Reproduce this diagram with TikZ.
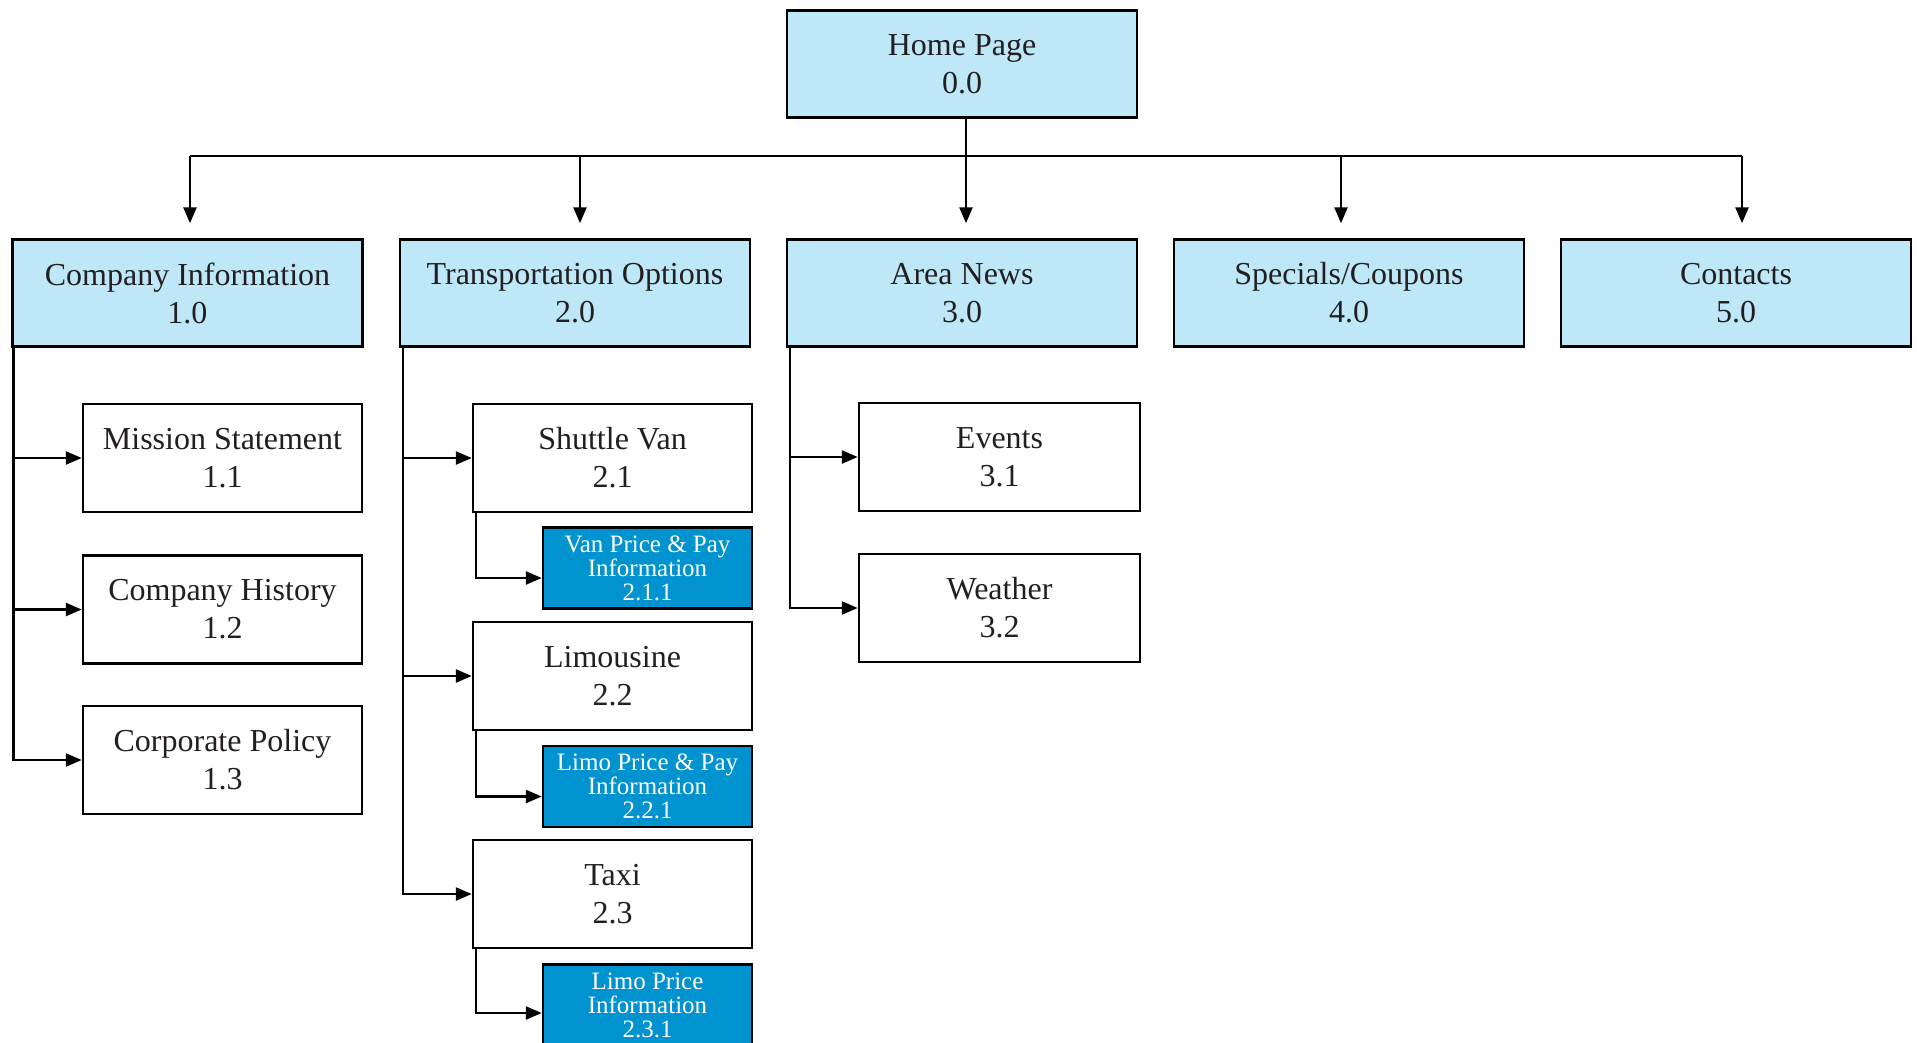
\documentclass[tikz,border=0pt]{standalone}
\usepackage{fontspec}
\setmainfont{Liberation Serif}
\usetikzlibrary{arrows.meta,positioning}
\definecolor{lightbox}{HTML}{BEE7F8}
\definecolor{darkbox}{HTML}{0093D0}
\definecolor{txt}{HTML}{231F20}
\tikzset{
  basebox/.style={draw=black, line width=2.5pt, inner sep=0pt, align=center, text=txt,
    font=\fontsize{32}{38}\selectfont},
  topbox/.style={basebox, fill=lightbox, minimum width=350pt, minimum height=107pt},
  childbox/.style={basebox, fill=white, minimum width=279pt, minimum height=108pt},
  subbox/.style={basebox, fill=darkbox, text=white, minimum width=209pt, minimum height=81pt,
    font=\fontsize{25}{24}\selectfont},
  conn/.style={draw=black, line width=2.5pt, -{Triangle[length=16pt,width=13pt]}},
  plain/.style={draw=black, line width=2.5pt},
}
\begin{document}
\begin{tikzpicture}[x=1pt, y=-1pt]
\useasboundingbox (0,0) rectangle (1917,1042);
% top
\node[topbox] (home) at (962,64) {Home Page\\0.0};
\node[topbox] (cinfo) at (187.5,293) {Company Information\\1.0};
\node[topbox] (trans) at (575,293) {Transportation Options\\2.0};
\node[topbox] (area) at (962,293) {Area News\\3.0};
\node[topbox] (spec) at (1349,293) {Specials/Coupons\\4.0};
\node[topbox] (cont) at (1736,293) {Contacts\\5.0};
% company children
\node[childbox] (mission) at (222.5,458) {Mission Statement\\1.1};
\node[childbox] (history) at (222.5,609.5) {Company History\\1.2};
\node[childbox] (policy) at (222.5,760) {Corporate Policy\\1.3};
% transportation children
\node[childbox] (shuttle) at (612.5,458) {Shuttle Van\\2.1};
\node[subbox] (vanprice) at (647.5,568) {Van Price \& Pay\\Information\\2.1.1};
\node[childbox] (limo) at (612.5,676) {Limousine\\2.2};
\node[subbox] (limoprice) at (647.5,786.5) {Limo Price \& Pay\\Information\\2.2.1};
\node[childbox] (taxi) at (612.5,894) {Taxi\\2.3};
\node[subbox] (taxiprice) at (647.5,1005) {Limo Price\\Information\\2.3.1};
% area news children
\node[childbox, minimum width=281pt] (events) at (999.5,457) {Events\\3.1};
\node[childbox, minimum width=281pt] (weather) at (999.5,608) {Weather\\3.2};
% bus
\coordinate (b1) at (190,156);
\coordinate (b2) at (580,156);
\coordinate (b3) at (966,156);
\coordinate (b4) at (1341,156);
\coordinate (b5) at (1742,156);
\draw[plain] (b1) -- (b5);
\draw[plain] (b3 |- home.south) -- (b3);
\draw[conn, shorten >=15pt] (b1) -- (b1 |- cinfo.north);
\draw[conn, shorten >=15pt] (b2) -- (b2 |- trans.north);
\draw[conn, shorten >=15pt] (b3) -- (b3 |- area.north);
\draw[conn, shorten >=15pt] (b4) -- (b4 |- spec.north);
\draw[conn, shorten >=15pt] (b5) -- (b5 |- cont.north);
% company trunk
\coordinate (ct) at ([xshift=2pt]cinfo.south west);
\draw[conn] (ct) |- (mission.west);
\draw[conn] (ct) |- (history.west);
\draw[conn] (ct) |- (policy.west);
% transportation trunk
\coordinate (tt) at ([xshift=4pt]trans.south west);
\draw[conn] (tt) |- (shuttle.west);
\draw[conn] (tt) |- (limo.west);
\draw[conn] (tt) |- (taxi.west);
\draw[conn] ([xshift=4pt]shuttle.south west) |- ([yshift=-10pt]vanprice.west);
\draw[conn] ([xshift=4pt]limo.south west) |- ([yshift=-10pt]limoprice.west);
\draw[conn] ([xshift=4pt]taxi.south west) |- ([yshift=-8pt]taxiprice.west);
% area trunk
\coordinate (at) at ([xshift=4pt]area.south west);
\draw[conn] (at) |- (events.west);
\draw[conn] (at) |- (weather.west);
\end{tikzpicture}
\end{document}
